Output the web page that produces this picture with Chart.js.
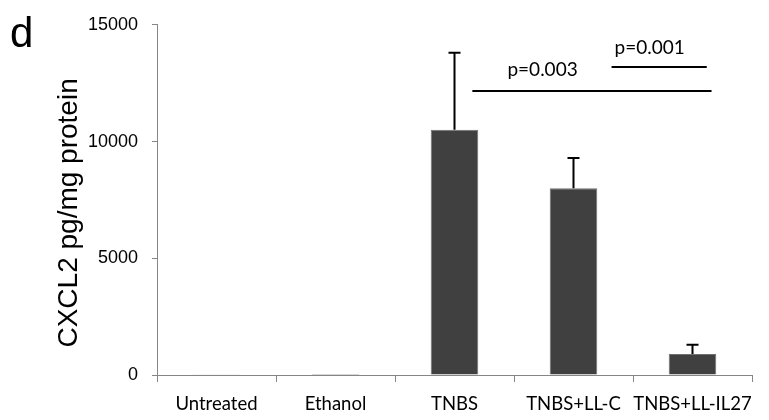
<!DOCTYPE html>
<html>
<head>
<meta charset="utf-8">
<script src="https://cdn.jsdelivr.net/npm/chart.js@4.4.0/dist/chart.umd.min.js"></script>
<style>
  html, body { margin: 0; padding: 0; background: #fff; }
  #wrap { width: 769px; height: 420px; }
</style>
</head>
<body>
<div id="wrap"><canvas id="c" width="769" height="420"></canvas></div>
<script>
// CXCL2 concentration per treatment group (mean and SD)
const categories = ['Untreated', 'Ethanol', 'TNBS', 'TNBS+LL-C', 'TNBS+LL-IL27'];
const meanValues = [15, 40, 10500, 8000, 900];
const errorValues = [0, 0, 3300, 1300, 400];
const yTicks = [0, 5000, 10000, 15000];

// Significance lines: span in category units, height in pg/mg
const comparisonSpans = [[2.15, 4.16], [3.32, 4.12]];
const comparisonLevels = [12150, 13180];
const comparisonLabels = ['p=0.003', 'p=0.001'];
const comparisonLabelAt = [2.74, 3.64];
const comparisonLabelLevels = [13070, 14020];

const panelLetter = 'd';
const yTitle = 'CXCL2 pg/mg protein';

const AXIS_GREY = '#868686';
const LABEL_FONT = "Lato, 'Open Sans', sans-serif";
const ARIAL = "'Liberation Sans', Arial, sans-serif";

function catPixel(xScale, pos) {
  const p0 = xScale.getPixelForValue(0);
  const step = xScale.getPixelForValue(1) - p0;
  return p0 + pos * step;
}

const annotations = {
  id: 'annotations',
  afterDatasetsDraw(chart) {
    const ctx = chart.ctx;
    const xs = chart.scales.x, ys = chart.scales.y;
    const meta = chart.getDatasetMeta(0);
    ctx.save();
    // upper error bars
    ctx.strokeStyle = '#000';
    ctx.lineWidth = 2;
    meta.data.forEach((bar, i) => {
      const err = errorValues[i];
      if (!err) return;
      const yTop = ys.getPixelForValue(meanValues[i] + err);
      const yBase = ys.getPixelForValue(meanValues[i]);
      ctx.beginPath();
      ctx.moveTo(bar.x, yBase);
      ctx.lineTo(bar.x, yTop);
      ctx.moveTo(bar.x - 6, yTop);
      ctx.lineTo(bar.x + 6, yTop);
      ctx.stroke();
    });
    // significance lines and their p-values
    ctx.fillStyle = '#000';
    ctx.font = "19px " + LABEL_FONT;
    ctx.textAlign = 'center';
    ctx.textBaseline = 'middle';
    comparisonSpans.forEach((span, k) => {
      const y = Math.round(ys.getPixelForValue(comparisonLevels[k]));
      ctx.beginPath();
      ctx.moveTo(catPixel(xs, span[0]), y);
      ctx.lineTo(catPixel(xs, span[1]), y);
      ctx.stroke();
      ctx.fillText(comparisonLabels[k], catPixel(xs, comparisonLabelAt[k]),
                   ys.getPixelForValue(comparisonLabelLevels[k]));
    });
    ctx.restore();
  },
  afterDraw(chart) {
    const ctx = chart.ctx;
    const area = chart.chartArea;
    ctx.save();
    ctx.fillStyle = '#000';
    ctx.font = "42px " + ARIAL;
    ctx.textAlign = 'left';
    ctx.textBaseline = 'alphabetic';
    ctx.fillText(panelLetter, 10, 47);
    ctx.translate(69, (area.top + area.bottom) / 2 + 13);
    ctx.rotate(-Math.PI / 2);
    ctx.font = "28px " + ARIAL;
    ctx.textAlign = 'center';
    ctx.textBaseline = 'middle';
    ctx.fillText(yTitle, 0, 0);
    ctx.restore();
  }
};

new Chart(document.getElementById('c'), {
  type: 'bar',
  data: {
    labels: categories,
    datasets: [{
      data: meanValues,
      backgroundColor: '#404040',
      borderColor: '#707070',
      borderWidth: 1,
      barPercentage: 0.4,
      categoryPercentage: 1.0
    }]
  },
  options: {
    responsive: false,
    animation: false,
    devicePixelRatio: 1,
    layout: { padding: { left: 0, right: 17, top: 21, bottom: 0 } },
    plugins: { legend: { display: false }, tooltip: { enabled: false } },
    scales: {
      x: {
        grid: { offset: true, drawOnChartArea: false, tickLength: 7, color: AXIS_GREY },
        border: { color: AXIS_GREY, width: 1 },
        ticks: { color: '#000', font: { family: LABEL_FONT, size: 18.5 }, padding: 11, maxRotation: 0, autoSkip: false },
        afterFit(scale) { scale.height = 45; }
      },
      y: {
        min: 0, max: 15000,
        afterBuildTicks(scale) { scale.ticks = yTicks.map(v => ({ value: v })); },
        grid: { drawOnChartArea: false, tickLength: 5, color: AXIS_GREY },
        border: { color: AXIS_GREY, width: 1 },
        ticks: { color: '#000', font: { family: ARIAL, size: 18 }, padding: 14, callback: v => String(v) },
        afterFit(scale) { scale.width = 157; }
      }
    }
  },
  plugins: [annotations]
});
</script>
</body>
</html>
